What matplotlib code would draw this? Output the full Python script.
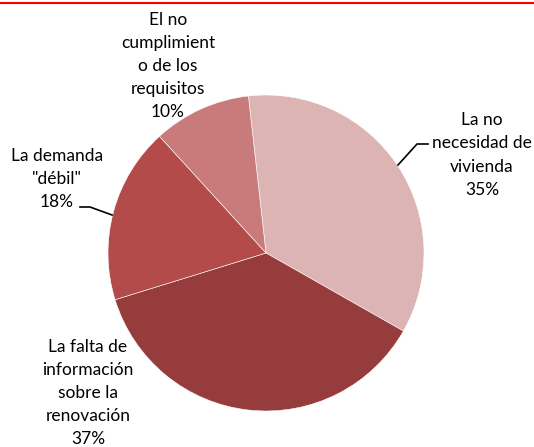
import matplotlib
matplotlib.use("Agg")
import matplotlib.pyplot as plt

# Motivos (porcentajes)
labels = ['La no\nnecesidad de\nvivienda', 'La falta de\ninformación\nsobre la\nrenovación',
          'La demanda\n"débil"', 'El no\ncumplimient\no de los\nrequisitos']
values = [35, 37, 18, 10]
colors = ['#DDB4B4', '#963C3C', '#B24B4A', '#C97B7B']

W, H = 534, 447
fig = plt.figure(figsize=(W / 100, H / 100), dpi=100)
ax = fig.add_axes([0, 0, 1, 1])

# pie in pixel-like coords (y up)
cx, cy, r = 266, H - 253, 158
ax.pie(values, colors=colors, startangle=96.4, counterclock=False,
       center=(cx, cy), radius=r,
       wedgeprops=dict(edgecolor='white', linewidth=0.4))
ax.set_xlim(0, W)
ax.set_ylim(0, H)
ax.set_aspect('auto')
ax.axis('off')

# label positions (text centres, image pixel coords)
label_pos = [(482, 155), (88, 393), (57, 179), (168, 66)]
for lab, v, (x, y) in zip(labels, values, label_pos):
    ax.text(x, H - y, lab + '\n' + str(v) + '%', ha='center', va='center',
            fontsize=12.5, family='Lato', linespacing=1.54, color='black')

# leader lines
ax.plot([398, 417, 428], [H - 165, H - 144, H - 144], color='black', lw=1.2)
ax.plot([80, 90, 112], [H - 207, H - 207, H - 215], color='black', lw=1.2)

# red rule at the top
fig.add_artist(plt.Line2D([0, 1], [1 - 3 / H, 1 - 3 / H], color='#FF0000', lw=1.5,
                          transform=fig.transFigure))

fig.savefig('out.png', dpi=100)
